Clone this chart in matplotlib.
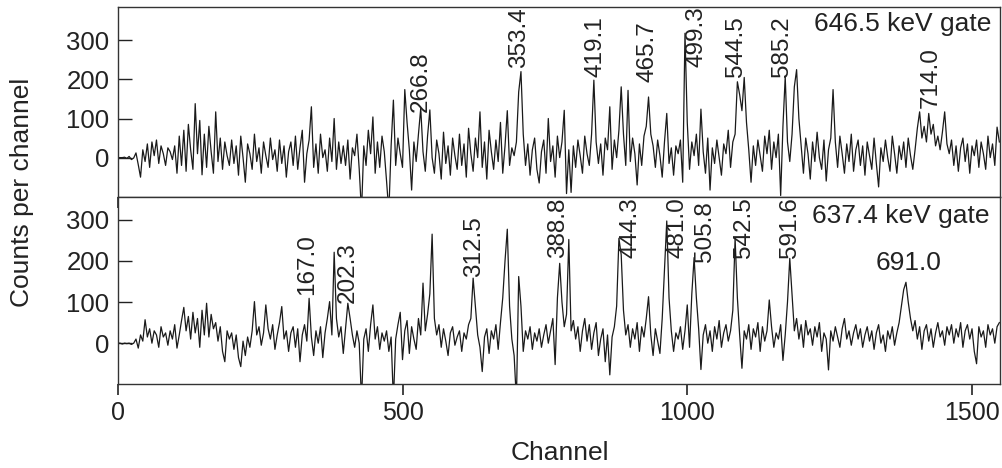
import numpy as np
import matplotlib
matplotlib.use("Agg")
from matplotlib import pyplot as plt

plt.rcParams['font.family'] = ['Liberation Sans', 'DejaVu Sans']

chStep = 4

# 646.5 keV gate spectrum (counts per channel, every 4th channel)
countsTop = [
    0, 0, 0, 1, -2, 3, -5, -1, 12, -18, -50, 20, -10, 35, -25, 40, 5, 45, -15, 30, 10, -20, 25, 15, -5,
    30, -40, 55, -20, 70, -35, 85, 20, -30, 138, 10, 95, -44, 60, -25, 80, 15, -40, 117, -10, 50, -30, 40, 5, -20,
    45, -15, 30, -45, 55, 0, -63, 35, 10, -30, 60, -10, 25, -40, 40, 5, -25, 50, -5, 20, -35, 45, -15, 30, -50,
    15, 40, -20, 55, -30, 25, 70, -63, 10, 45, 130, -25, 35, -40, 60, 0, 20, -35, 50, -10, 100, -30, 40, -15, 30,
    -20, 45, -55, 25, 5, 60, -30, -140, 30, -20, 70, 10, 104, -40, 40, -25, 55, 15, -60, -140, 30, 147, -20, 50, 10,
    -25, 174, 90, 20, -83, 40, -10, 60, 126, 15, -35, 55, 122, 0, -40, 45, 10, -55, 65, -15, 30, -45, 50, 5, -30,
    60, -20, 35, -50, 75, 10, -35, 50, 0, 117, -25, 40, -55, 70, 15, -30, 45, -10, 90, -40, 30, 120, -20, 25, 5,
    40, 168, 220, 60, -20, 35, -45, 20, 50, -30, -65, 15, 45, -40, 100, -10, 30, -50, 55, 0, 40, 121, -92, 20, -89,
    30, -25, 45, 5, -40, 55, 10, -20, 60, 198, 40, -15, 35, -45, 50, 20, 130, -30, 45, 0, 70, 181, 60, -20, 172,
    -10, 50, 10, -70, 35, -20, 55, 80, 155, 60, 30, -25, 45, 5, -50, 40, 113, -15, 25, -45, 30, 10, 45, -63, 318,
    90, -30, 40, 5, 60, -20, 124, 15, -40, 50, -83, 25, -15, 45, 0, -45, 35, 10, 70, -25, 40, 60, 194, 161, 120,
    205, 90, 20, -63, 30, -20, 45, 5, -35, 55, 10, 70, -30, 40, 0, 60, -97, 80, 207, 40, -10, 60, 181, 225, 100,
    30, -40, 50, 10, -55, 40, -10, 65, 0, -30, 45, -60, 20, 50, 174, 40, -25, 55, 10, -40, 35, -10, 60, -35, 20,
    45, -20, 30, -45, 40, 5, -30, 50, -15, -75, 25, -10, 45, 0, -35, 55, 10, -40, 30, -5, 40, -25, 50, 5, -30,
    20, 75, 117, 50, 80, 40, 113, 60, 85, 30, 55, 20, 65, 117, 35, 10, 45, -20, 30, -35, 25, 50, -10, 35, -40,
    30, 5, 45, -25, 40, 10, -30, 55, 0, 35, -20, 78, 40,
]

# 637.4 keV gate spectrum
countsBot = [
    0, 0, -2, 0, -1, 0, -3, 0, 10, -12, 20, 5, 57, 15, 35, 0, 30, 20, -10, 40, 15, 25, -5, 30, 10,
    45, -12, 20, 55, 87, 30, 65, 10, 75, 25, 60, -10, 80, 20, 97, 15, 70, 35, 50, 5, 40, -20, -45, 30, 10,
    25, -15, 20, -35, -57, 5, -30, 15, -10, 30, 101, 20, 40, -5, 25, 93, 35, 10, 45, -15, 20, 50, 89, 10, 30,
    -20, 25, 40, -10, 35, -45, 20, 45, 5, 109, 15, -30, 30, 0, 40, -35, 25, 60, 101, 20, 221, 60, 15, 40, -25,
    35, 97, 60, 20, -10, 30, 0, -140, 10, 35, -20, 45, 93, 10, 40, -15, 25, 5, 30, -20, 15, -140, 10, 45, 75,
    -40, 30, 55, -25, 40, 10, -15, 60, 20, 146, 30, 70, 120, 265, 60, 20, 45, -10, 35, 5, -30, 25, 40, -5, 15,
    30, -20, 25, 10, 45, 60, 158, 90, 20, -10, -69, 15, 35, -25, 30, 10, 45, -15, 50, 110, 200, 277, 90, 10, -30,
    -140, 162, 90, -20, 30, 10, 40, -15, 25, 5, 35, -10, 20, 45, 0, 30, 60, -52, 110, 194, 100, 40, 70, 252, 30,
    55, 10, 40, -20, 30, 60, 5, 45, -15, 25, 50, -30, 10, 35, -45, 20, -77, 15, 40, 90, 255, 215, 80, 20, 45,
    -10, 35, 10, 50, -20, 40, 15, 60, 113, 20, -30, 35, 5, -25, 60, 180, 297, 110, 30, -20, 25, 10, 40, -15, 30,
    93, -10, 120, 208, 110, 35, -64, 20, 45, 0, 30, -20, 40, 10, 55, -10, 25, 45, 5, 30, 80, 255, 110, 20, -61,
    30, 10, 45, -15, 35, 15, 50, -20, 40, 5, 30, 105, 40, -10, 25, 10, 45, -42, 20, 100, 206, 120, 30, 60, 10,
    45, -10, 55, 20, 35, -5, 40, 15, 50, -20, 25, 10, -65, 30, 5, 40, 15, -10, 35, 60, 10, 30, -5, 25, 45,
    10, 35, -10, 20, 40, 5, 30, -15, 25, 45, 0, 20, -20, 30, 10, 40, -5, 25, 50, 90, 130, 148, 100, 60, 30,
    55, 10, 40, -15, 30, 45, 5, 35, -10, 25, 50, 15, 30, -5, 40, 20, 45, 0, 35, 15, 50, -10, 30, 45, 10,
    35, -20, -50, 40, 15, 30, -10, 45, 20, 35, 0, 40, 50,
]

# Peak labels: energy text, channel, counts where the label starts
peaksTop = ['266.8', '353.4', '419.1', '465.7', '499.3', '544.5', '585.2', '714.0']
peakChTop = [532, 705, 838, 931, 1017, 1085, 1167, 1428]
peakYTop = [116, 228, 207, 194, 232, 207, 207, 126]

peaksBot = ['167.0', '202.3', '312.5', '388.8', '444.3', '481.0', '505.8', '542.5', '591.6']
peakChBot = [332, 403, 625, 774, 901, 982, 1031, 1100, 1181]
peakYBot = [117, 97, 162, 206, 206, 206, 198, 206, 206]

# The one label drawn horizontally in the lower panel
flatLabel = '691.0'
flatCh = 1388
flatY = 166

gates = ['646.5 keV gate', '637.4 keV gate']
yTicks = [0, 100, 200, 300]
xTicks = [0, 500, 1000, 1500]

lineCol = '#1a1a1a'
axCol = '#333333'

fig = plt.figure(figsize=(10.03, 4.68), dpi=100)
axTop = fig.add_axes([0.1174, 0.5797, 0.8801, 0.4060])
axBot = fig.add_axes([0.1174, 0.1788, 0.8801, 0.4009])


def styleAxis(ax, ylim, showX):
    ax.set_xlim(0, 1550)
    ax.set_ylim(*ylim)
    ax.set_yticks(yTicks)
    ax.set_xticks(xTicks)
    ax.tick_params(axis='y', direction='in', length=10, width=1, pad=6,
                   labelsize=18.5, colors='#222222')
    ax.tick_params(axis='x', direction='out', length=8, width=1.2, pad=4,
                   labelsize=18, colors='#222222', labelbottom=showX)
    for sp in ax.spines.values():
        sp.set_color(axCol)
        sp.set_linewidth(1.0)


chTop = np.arange(len(countsTop)) * chStep
chBot = np.arange(len(countsBot)) * chStep

axTop.plot(chTop, countsTop, color=lineCol, lw=0.9)
axBot.plot(chBot, countsBot, color=lineCol, lw=0.9)

styleAxis(axTop, (-100, 386), False)
styleAxis(axBot, (-100, 356), True)

for txt, c, y in zip(peaksTop, peakChTop, peakYTop):
    axTop.text(c, y, txt, rotation=90, ha='center', va='bottom', fontsize=17.5,
               color='#222222', clip_on=False)
for txt, c, y in zip(peaksBot, peakChBot, peakYBot):
    axBot.text(c, y, txt, rotation=90, ha='center', va='bottom', fontsize=17.5,
               color='#222222', clip_on=False)
axBot.text(flatCh, flatY, flatLabel, ha='center', va='bottom', fontsize=19, color='#222222')

axTop.text(0.990, 0.909, gates[0], transform=axTop.transAxes, ha='right', va='center',
           fontsize=19, color='#222222')
axBot.text(0.988, 0.898, gates[1], transform=axBot.transAxes, ha='right', va='center',
           fontsize=19, color='#222222')

fig.text(0.0224, 0.589, 'Counts per channel', rotation=90, ha='center', va='center',
         fontsize=19, color='#222222')
fig.text(0.558, 0.033, 'Channel', ha='center', va='center', fontsize=19, color='#222222')

fig.savefig('out.png', dpi=100)
